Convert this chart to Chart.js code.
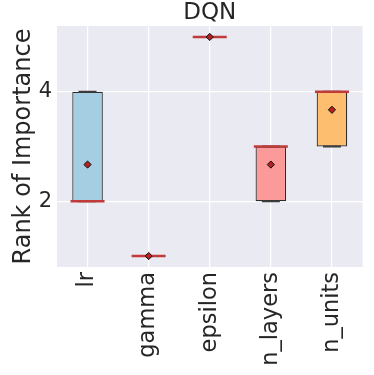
<!DOCTYPE html>
<html>
<head>
<meta charset="utf-8">
<script src="https://cdn.jsdelivr.net/npm/chart.js@4/dist/chart.umd.min.js"></script>
<style>
html,body{margin:0;padding:0;background:#fff;overflow:hidden;width:374px;height:375px;font-family:"DejaVu Sans";}
#c{display:block;}
</style>
</head>
<body>
<canvas id="c" width="382" height="375"></canvas>
<script>
const categories = ['lr', 'gamma', 'epsilon', 'n_layers', 'n_units'];
const q1 = [2, 1, 5, 2, 3];
const q3 = [4, 1, 5, 3, 4];
const medians = [2, 1, 5, 3, 4];
const means = [2.67, 1, 5, 2.67, 3.67];
const whiskerLow = [2, 1, 5, 2, 3];
const whiskerHigh = [4, 1, 5, 3, 4];
const yTicks = [2, 4];
const boxColors = ['#a6cee3', '#1f78b4', '#b2df8a', '#fb9a99', '#fdbf6f'];

const FONT = 'DejaVu Sans';
const TXT = '#262626';
Chart.defaults.font.family = FONT;

const bgPlugin = {
  id: 'bg',
  beforeDraw(chart) {
    const {ctx, chartArea: a} = chart;
    ctx.save();
    ctx.fillStyle = '#eaeaf2';
    ctx.fillRect(a.left, a.top, a.right - a.left, a.bottom - a.top);
    ctx.restore();
  }
};

new Chart(document.getElementById('c'), {
  type: 'bar',
  data: {
    labels: categories,
    datasets: [
      {
        type: 'line', label: 'capsLow',
        data: whiskerLow,
        showLine: false, pointStyle: 'line', pointRadius: 9,
        pointBorderColor: '#3d3d3d', pointBorderWidth: 2, order: 3
      },
      {
        type: 'line', label: 'capsHigh',
        data: whiskerHigh,
        showLine: false, pointStyle: 'line', pointRadius: 9,
        pointBorderColor: '#3d3d3d', pointBorderWidth: 2, order: 3
      },
      {
        label: 'box',
        data: q1.map((v, i) => [v, q3[i]]),
        backgroundColor: boxColors,
        borderColor: '#2b2b2b',
        borderWidth: 1.2,
        borderSkipped: false,
        barPercentage: 0.5,
        categoryPercentage: 1.0,
        grouped: false,
        order: 4
      },
      {
        type: 'line', label: 'median',
        data: medians,
        showLine: false, pointStyle: 'line', pointRadius: 17,
        pointBorderColor: '#c23b3b', pointBorderWidth: 2.5, order: 2
      },
      {
        type: 'line', label: 'mean',
        data: means,
        showLine: false, pointStyle: 'rectRot', pointRadius: 3.6,
        pointBackgroundColor: '#b22222', pointBorderColor: '#111',
        pointBorderWidth: 1, order: 1
      }
    ]
  },
  options: {
    responsive: false,
    animation: false,
    layout: {padding: {left: 0, right: 0, top: 0, bottom: 0}},
    plugins: {
      legend: {display: false},
      tooltip: {enabled: false},
      title: {
        display: true, text: 'DQN', fullSize: false,
        color: TXT,
        font: {family: FONT, size: 23, weight: 'normal', lineHeight: 1.0},
        padding: {top: 2, bottom: 1}
      }
    },
    scales: {
      x: {
        offset: true,
        grid: {display: true, offset: false, color: '#ffffff', lineWidth: 1.2, drawTicks: false},
        border: {display: false},
        ticks: {
          color: TXT, font: {family: FONT, size: 22.5},
          minRotation: 90, maxRotation: 90, padding: 5, autoSkip: false
        },
        afterFit(s) { s.height = 108; }
      },
      y: {
        min: 0.8, max: 5.2,
        grid: {color: '#ffffff', lineWidth: 1.2, drawTicks: false},
        border: {display: false},
        ticks: {color: TXT, font: {family: FONT, size: 21}, padding: 5},
        afterBuildTicks(s) { s.ticks = yTicks.map(v => ({value: v})); },
        title: {
          display: true, text: 'Rank of Importance', color: TXT,
          font: {family: FONT, size: 24}, padding: {top: 9.5, bottom: 0}
        },
        afterFit(s) { s.width = 57; }
      }
    }
  },
  plugins: [bgPlugin]
});
</script>
</body>
</html>
